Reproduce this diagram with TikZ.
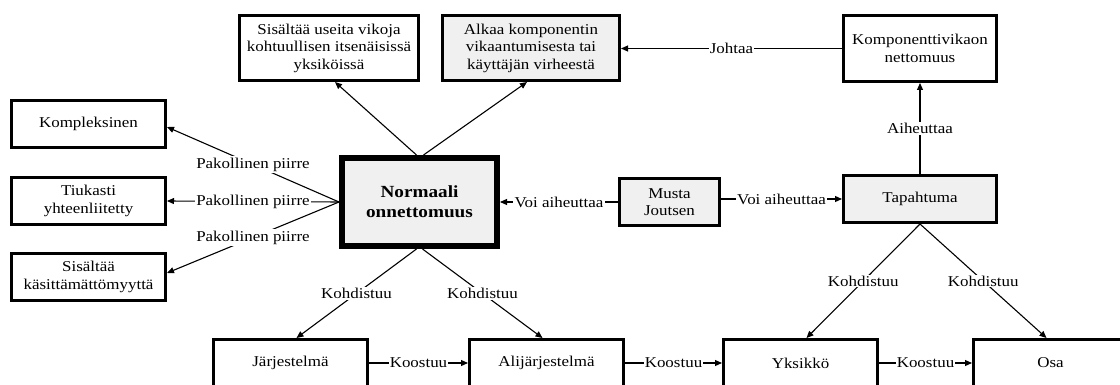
\documentclass[tikz,border=0pt]{standalone}
\usepackage{fontspec}
\setmainfont{Liberation Serif}[FakeStretch=1.13]
\usetikzlibrary{arrows.meta,calc}
\definecolor{boxgray}{HTML}{F0F0F0}
\tikzset{
  box/.style={draw, line width=2.6pt, fill=white, align=center, inner sep=1pt},
  graybox/.style={box, fill=boxgray},
  mainbox/.style={box, fill=boxgray, line width=5.6pt, font=\fontsize{17}{20}\selectfont\bfseries},
  link/.style={line width=1.1pt, -{Triangle[length=7pt,width=6pt]}},
  lab/.style={fill=white, inner sep=1.2pt}
}
\begin{document}
\begin{tikzpicture}[x=1pt, y=-1pt, font=\fontsize{15}{17.5}\selectfont]
\clip (0,0) rectangle (1120,385);
\fill[white] (0,0) rectangle (1120,385);

% left column of required features
\node[box, minimum width=154.4pt, minimum height=47.4pt] (kompl) at (88.5,124) {Kompleksinen};
\node[box, minimum width=154.4pt, minimum height=47.4pt] (tiuk) at (88.5,201) {Tiukasti\\yhteenliitetty};
\node[box, minimum width=154.4pt, minimum height=47.4pt] (kasit) at (88.5,277) {Sisältää\\käsittämättömyyttä};

% central concept
\node[mainbox, minimum width=155.4pt, minimum height=88.4pt] (norm) at (419.5,202) {Normaali\\onnettomuus};

% top row
\node[box, minimum width=179.4pt, minimum height=65.4pt] (useita) at (329,48) {Sisältää useita vikoja\\kohtuullisen itsenäisissä\\yksiköissä};
\node[graybox, minimum width=177.4pt, minimum height=65.4pt] (alkaa) at (531,48) {Alkaa komponentin\\vikaantumisesta tai\\käyttäjän virheestä};
\node[box, minimum width=153.4pt, minimum height=66.4pt] (kv) at (920,48.5) {Komponenttivikaon\\nettomuus};

% middle row
\node[graybox, minimum width=100.4pt, minimum height=47.4pt] (musta) at (669.5,202) {Musta\\Joutsen};
\node[graybox, minimum width=153.4pt, minimum height=47.4pt] (tap) at (920,199) {Tapahtuma};

% bottom row
\node[box, minimum width=154.4pt, minimum height=47.4pt] (jarj) at (290.5,363) {Järjestelmä};
\node[box, minimum width=154.4pt, minimum height=47.4pt] (ali) at (546.5,363) {Alijärjestelmä};
\node[box, minimum width=154.4pt, minimum height=47.4pt] (yks) at (800.5,363) {Yksikkö};
\node[box, minimum width=154.4pt, minimum height=47.4pt] (osa) at (1050.5,363) {Osa};

% connectors from the central concept
\draw[link] (norm.west) -- node[lab]{Pakollinen piirre} ([yshift=-3pt]kompl.east);
\draw[link] (norm.west) -- node[lab]{Pakollinen piirre} (tiuk.east);
\draw[link] (norm.west) -- node[lab]{Pakollinen piirre} ([yshift=4pt]kasit.east);
\draw[link] ([xshift=-3pt]norm.north) -- ([xshift=6pt]useita.south);
\draw[link] ([xshift=4pt]norm.north) -- ([xshift=-4pt]alkaa.south);
\draw[link] ([xshift=-3pt]norm.south) -- node[lab]{Kohdistuu} ([xshift=6pt]jarj.north);
\draw[link] ([xshift=3pt]norm.south) -- node[lab]{Kohdistuu} ([xshift=-4pt]ali.north);

% black swan and event
\draw[link] (musta.west) -- node[lab]{Voi aiheuttaa} (musta.west -| norm.east);
\draw[link] (musta.east |- tap.west) -- node[lab]{Voi aiheuttaa} (tap.west);
\draw[link] (tap.north) -- node[lab]{Aiheuttaa} (kv.south);
\draw[link] (kv.west) -- node[lab]{Johtaa} (kv.west -| alkaa.east);
\draw[link] (tap.south) -- node[lab]{Kohdistuu} ([xshift=6pt]yks.north);
\draw[link] (tap.south) -- node[lab]{Kohdistuu} ([xshift=-4pt]osa.north);

% composition chain
\draw[link] (jarj.east) -- node[lab]{Koostuu} (ali.west);
\draw[link] (ali.east) -- node[lab]{Koostuu} (yks.west);
\draw[link] (yks.east) -- node[lab]{Koostuu} (osa.west);
\end{tikzpicture}
\end{document}
